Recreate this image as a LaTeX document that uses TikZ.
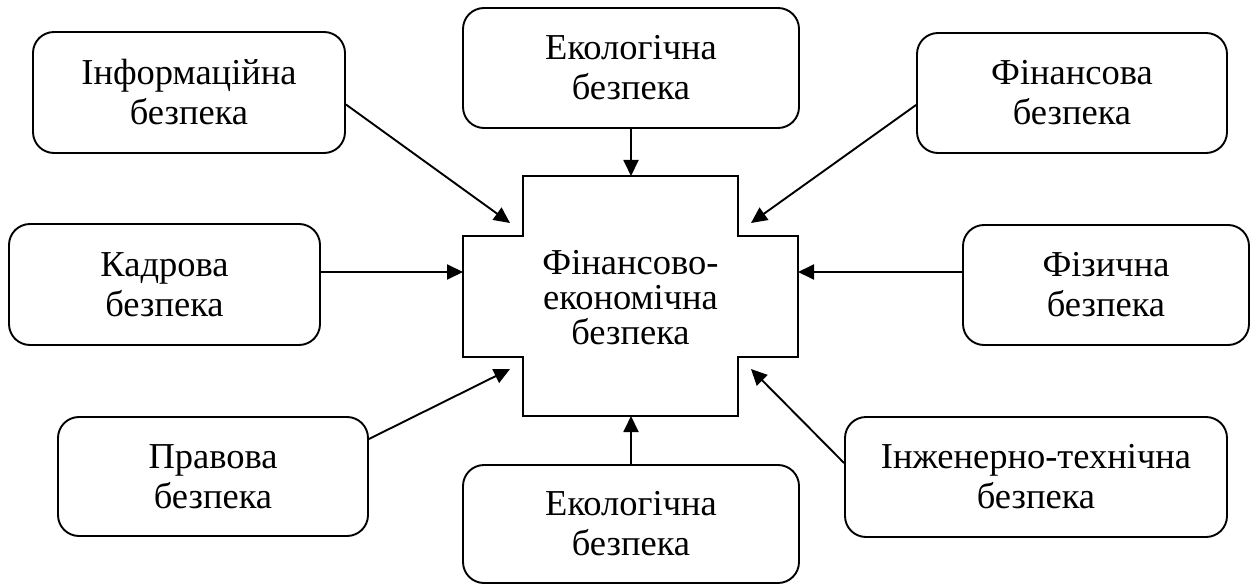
\documentclass[tikz,border=0pt]{standalone}
\usepackage{fontspec}
\setmainfont{Liberation Serif}
\usetikzlibrary{arrows.meta}

\tikzset{
  safebox/.style={draw, line width=1.9pt, rounded corners=21pt, align=center,
    inner sep=0pt, font=\fontsize{36.5}{40}\selectfont},
  link/.style={line width=1.9pt, -{Triangle[length=16pt, width=15pt]}},
}

\begin{document}
\begin{tikzpicture}[x=1pt, y=-1pt]
\useasboundingbox (0,0) rectangle (1257,585);
% central cross
\draw[line width=1.9pt] (523,176) -- (738,176) -- (738,236) -- (798,236) -- (798,357)
  -- (738,357) -- (738,416) -- (523,416) -- (523,357) -- (463,357) -- (463,236)
  -- (523,236) -- cycle;
\node[align=center, inner sep=0pt, font=\fontsize{36.5}{35}\selectfont] (core) at (630.5,298)
  {Фінансово-\\економічна\\безпека};
\coordinate (cN) at (631,176);
\coordinate (cS) at (631,416);
\coordinate (cW) at (463,272);
\coordinate (cE) at (798,272);
\coordinate (cNW) at (510,223);
\coordinate (cNE) at (751,223);
\coordinate (cSW) at (510,369);
\coordinate (cSE) at (751,369);
% outer boxes
\node[safebox, minimum width=312pt, minimum height=121pt] (info) at (189,92.5) {Інформаційна\\безпека};
\node[safebox, minimum width=336pt, minimum height=120pt] (ecoT) at (631,68) {Екологічна\\безпека};
\node[safebox, minimum width=310pt, minimum height=120pt] (fin) at (1072,93) {Фінансова\\безпека};
\node[safebox, minimum width=311pt, minimum height=121pt] (kadr) at (164.5,284.5) {Кадрова\\безпека};
\node[safebox, minimum width=286pt, minimum height=120pt] (fiz) at (1106,285) {Фізична\\безпека};
\node[safebox, minimum width=310pt, minimum height=119pt] (prav) at (213,476.5) {Правова\\безпека};
\node[safebox, minimum width=336pt, minimum height=118pt] (ecoB) at (631,524) {Екологічна\\безпека};
\node[safebox, minimum width=382pt, minimum height=120pt] (inzh) at (1036,477) {Інженерно-технічна\\безпека};
% arrows
\draw[link] ([yshift=-12pt]info.east) -- (cNW);
\draw[link] (ecoT.south) -- (cN);
\draw[link] ([yshift=-12pt]fin.west) -- (cNE);
\draw[link] ([yshift=12.5pt]kadr.east) -- (cW);
\draw[link] ([yshift=13pt]fiz.west) -- (cE);
\draw[link] ([yshift=37.5pt]prav.east) -- (cSW);
\draw[link] (ecoB.north) -- (cS);
\draw[link] ([yshift=14pt]inzh.west) -- (cSE);
\end{tikzpicture}
\end{document}
